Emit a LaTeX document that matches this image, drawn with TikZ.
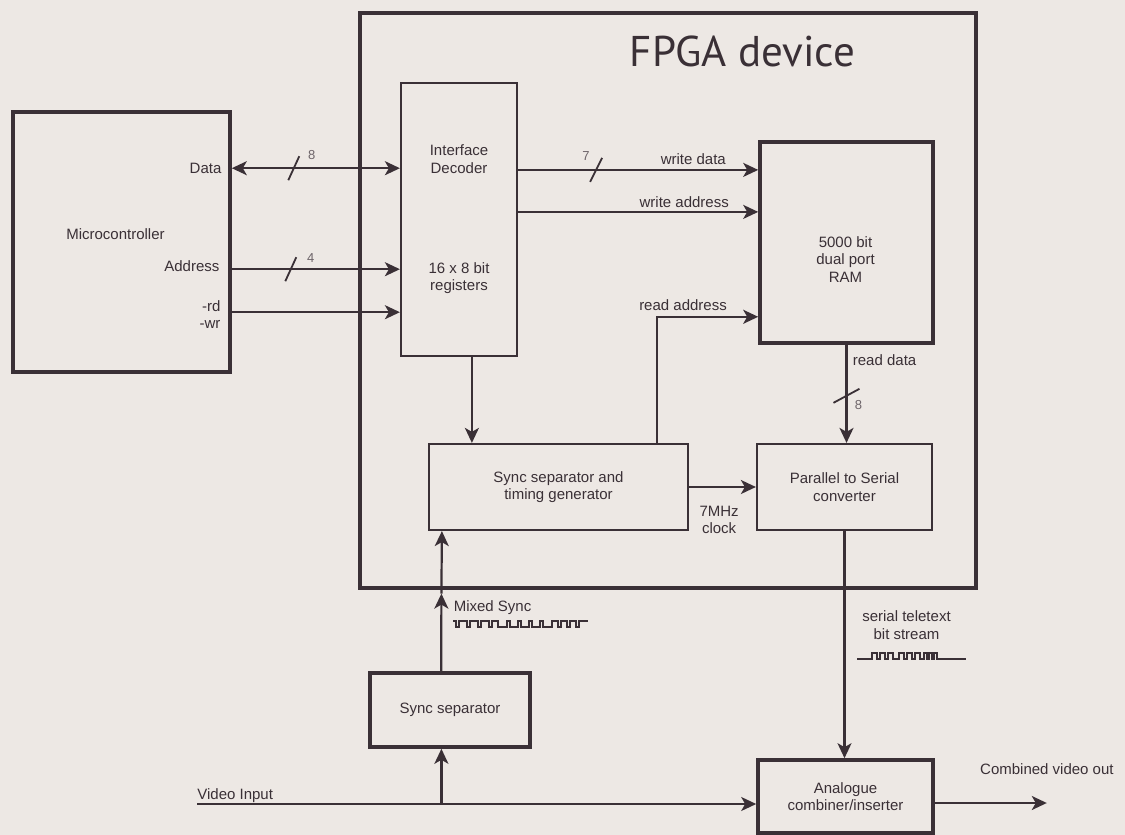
\documentclass[tikz,border=0pt]{standalone}
\usepackage{fontspec}
\setmainfont{Liberation Sans}
\newfontfamily\titlefont{PT Sans}
\usetikzlibrary{arrows.meta,positioning,calc}
\definecolor{paper}{RGB}{237,232,228}
\definecolor{ink}{RGB}{58,48,54}
\definecolor{inklt}{RGB}{110,101,106}
\tikzset{
  >={Stealth[length=7.5pt,width=7pt,inset=2pt]},
  blk/.style    = {draw=ink, rectangle, line width=1.1pt, align=center, text=ink,
                   font=\fontsize{7.5}{8.8}\selectfont, inner sep=0pt},
  thkblk/.style = {blk, line width=1.8pt},
  txt/.style    = {align=center, text=ink, font=\fontsize{7.5}{8.6}\selectfont,
                   inner sep=0pt},
  ttl/.style    = {text=ink, font=\titlefont\fontsize{21.5}{24}\selectfont,
                   inner sep=0pt},
  wire/.style   = {->, draw=ink, line width=1.1pt},
  wire2/.style  = {<->, draw=ink, line width=1.1pt},
  bus/.style    = {draw=ink, line width=0.9pt},
  bw/.style     = {text=inklt, font=\fontsize{6.5}{7.5}\selectfont, inner sep=0pt},
  wave/.style   = {draw=ink, line width=0.55pt}
}

\begin{document}
\begin{tikzpicture}[x=0.5pt, y=-0.5pt]

\fill[paper] (0,0) rectangle (1125,835);
\useasboundingbox (0,0) rectangle (1125,835);

% --- blocks ---
\node[thkblk, minimum width=108.5pt, minimum height=130pt] (mcu) at (121.5,242) {};
\node[txt] at ($(mcu.center)+(-6,-8)$) {Microcontroller};

\node[thkblk, line width=1.6pt, minimum width=308pt, minimum height=287.5pt]
     (fpga) at (668,300.5) {};
\node[ttl, anchor=base west] at ($(fpga.north west)+(271,55)$) {FPGA device};

\node[blk, minimum width=58pt, minimum height=136.5pt] (ifd) at (459,219.5)
     {Interface\\Decoder\\[41pt]16 x 8 bit\\registers};

\node[thkblk, minimum width=86.5pt, minimum height=100.5pt] (ram) at (846.5,242.5) {};
\node[txt] at ($(ram.center)+(-1,17)$) {5000 bit\\dual port\\RAM};

\node[blk, minimum width=129.5pt, minimum height=43pt] (sg) at (558.5,487)
     {Sync separator and\\timing generator};
\node[blk, minimum width=87.5pt, minimum height=43pt] (p2s) at (844.5,487)
     {Parallel to Serial\\converter};

\node[thkblk, minimum width=80pt, minimum height=37pt] (ss) at (450,710)
     {Sync separator};
\node[thkblk, minimum width=87.5pt, minimum height=36.5pt] (acomb) at (845.5,796.5)
     {Analogue\\combiner/inserter};

% --- microcontroller bus ---
\coordinate (dat) at ($(mcu.north east)+(0,58)$);
\coordinate (adr) at ($(mcu.north east)+(0,159)$);
\coordinate (rw)  at ($(mcu.north east)+(0,202)$);

\draw[wire2] (dat) -- (dat -| ifd.west);
\draw[wire]  (adr) -- (adr -| ifd.west);
\draw[wire]  (rw)  -- (rw -| ifd.west);

\node[txt, anchor=east] at ($(dat)+(-10,0)$) {Data};
\node[txt, anchor=east] at ($(adr)+(-12,-3)$) {Address};
\node[txt, anchor=east, align=right] at ($(rw)+(-11,2)$) {-rd\\-wr};

\draw[bus] ($(dat)+(62,0)$) +(-5.5,12) -- +(5.5,-12);
\node[bw] at ($(dat)+(80,-13)$) {8};
\draw[bus] ($(adr)+(59,0)$) +(-5.5,12) -- +(5.5,-12);
\node[bw] at ($(adr)+(79,-11)$) {4};

% --- RAM write side ---
\coordinate (wd) at ($(ifd.north east)+(0,88)$);
\coordinate (wa) at ($(ifd.north east)+(0,130)$);
\draw[wire] (wd) -- (wd -| ram.west);
\draw[wire] (wa) -- (wa -| ram.west);
\node[txt, anchor=east] at ($(wd -| ram.west)+(-32,-11)$) {write data};
\node[txt, anchor=east] at ($(wa -| ram.west)+(-29,-10)$) {write address};
\draw[bus] ($(wd)+(78,0)$) +(-6,12) -- +(6,-12);
\node[bw] at ($(wd)+(68,-14)$) {7};

% --- read side ---
\coordinate (ra) at ($(ram.south west)+(0,-28)$);
\draw[wire] ($(sg.north west)+(229,0)$) |- (ra);
\node[txt, anchor=east] at ($(ra)+(-31,-12)$) {read address};

\draw[wire] ($(ifd.south west)+(72,0)$) -- ($(sg.north west)+(44,0)$);

\draw[wire] (ram.south) -- (ram.south |- p2s.north);
\node[txt, anchor=west] at ($(ram.south)+(6,15)$) {read data};
\draw[bus] ($(ram.south)+(0,51)$) +(-13,7) -- +(13,-7);
\node[bw] at ($(ram.south)+(12,60)$) {8};

\draw[wire] (sg.east) -- (p2s.west);
\node[txt] at ($(sg.east)+(30,33)$) {7MHz\\clock};

% --- mixed sync ---
\coordinate (ms) at ($(fpga.south west)+(83,4)$);
\draw[wire] ($(ss.north west)+(73,0)$) -- (ms);
\draw[wire] (ms) -- ($(sg.south west)+(14,0)$);
\node[txt, anchor=west] at ($(ms)+(12,14)$) {Mixed Sync};
\draw[wave] (453,621)
  \foreach \x in {456,467,478,489} { -- (\x,621) -- (\x,627) -- (\x+3,627) -- (\x+3,621) }
  -- (498,621) -- (498,627)
  \foreach \x in {507,518,529,540} { -- (\x,627) -- (\x,621) -- (\x+3,621) -- (\x+3,627) }
  -- (552,627) -- (552,621)
  \foreach \x in {558,567,576} { -- (\x,621) -- (\x,627) -- (\x+3,627) -- (\x+3,621) }
  -- (588,621);

% --- video in / out ---
\coordinate (vin) at (197,804);
\node[txt, anchor=base west] at ($(vin)+(0,-5)$) {Video Input};
\draw[wire] (vin) -- (vin -| acomb.west);
\coordinate (vtap) at (vin -| ms);
\draw[wire] (vtap) -- (vtap |- ss.south);

\draw[wire] (p2s.south) -- (p2s.south |- acomb.north);
\node[txt] at ($(p2s.south)+(62,94)$) {serial teletext\\bit stream};
\draw[wave] (857,659)
  \foreach \a/\b in {872/877,880/885,888/893,899/904,907/912,915/920,924/927,929/932,934/937}
  { -- (\a,659) -- (\a,653) -- (\b,653) -- (\b,659) }
  -- (966,659);

\coordinate (cvo) at ($(acomb.east)+(112,6.5)$);
\draw[wire] ($(acomb.east)+(0,6.5)$) -- (cvo);
\node[txt, anchor=west] at ($(acomb.east)+(45,-27)$) {Combined video out};

\end{tikzpicture}
\end{document}
